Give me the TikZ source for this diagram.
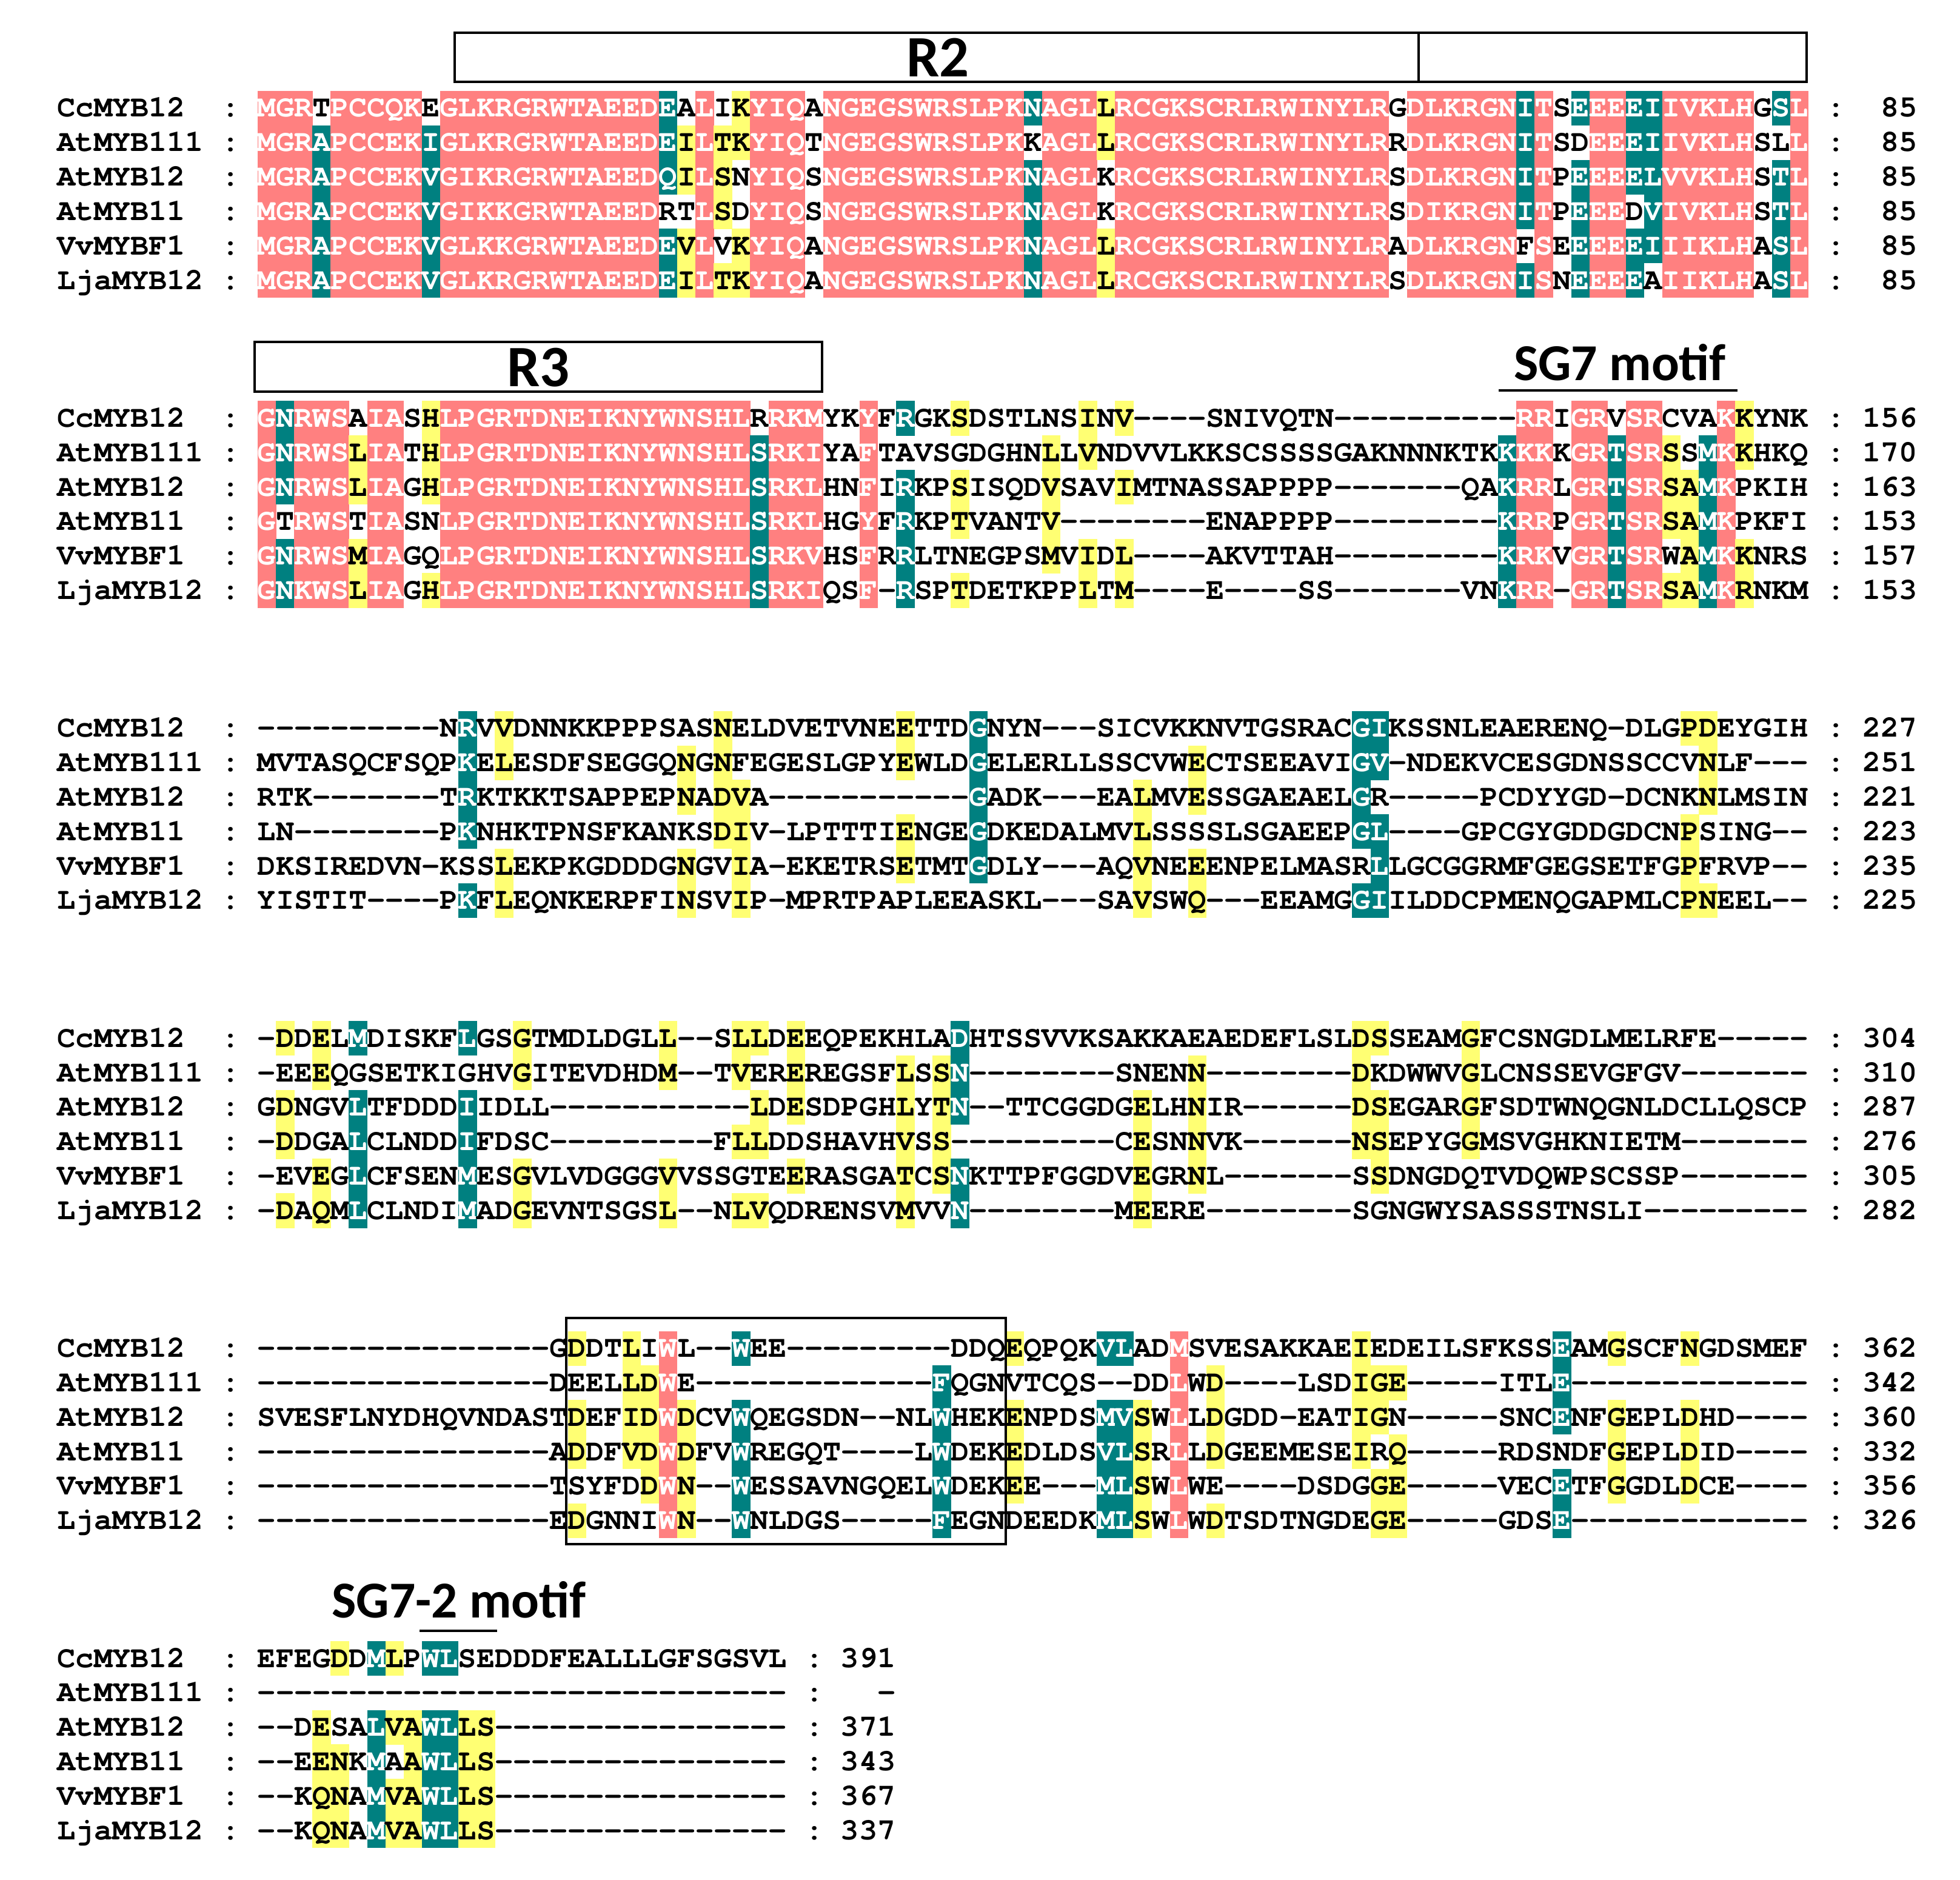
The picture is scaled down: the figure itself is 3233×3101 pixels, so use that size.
\documentclass[tikz,border=0pt]{standalone}
\usepackage{fontspec}
\newfontfamily\alnfont{TeX Gyre Cursor}
\newfontfamily\headfont{Carlito}
\definecolor{alnpink}{HTML}{FF8080}
\definecolor{alnteal}{HTML}{008080}
\definecolor{alnyellow}{HTML}{FFFF73}
\tikzset {
    res/.style = {inner sep = 0pt, anchor = base,
        font = \alnfont\bfseries\fontsize{14.3}{16}\selectfont},
    seqname/.style = {res, anchor = base west},
    seqend/.style = {res, anchor = base east},
    cell p/.style = {fill = alnpink},
    cell t/.style = {fill = alnteal},
    cell y/.style = {fill = alnyellow},
    ink p/.style = {text = white},
    ink t/.style = {text = white},
    ink y/.style = {text = black},
    region box/.style = {draw, line width = 1.2pt},
    region label/.style = {inner sep = 0pt, anchor = base,
        font = \headfont\bfseries\fontsize{27.5}{30}\selectfont},
    motif label/.style = {inner sep = 0pt, anchor = base,
        font = \headfont\bfseries\fontsize{24.3}{27}\selectfont},
    motif line/.style = {line width = 1.2pt}
}
\newcount\alncol
\def\alnblock#1{\pgfmathsetmacro\alnbtop{150+511.4*#1}}
\def\alncell#1#2{%
    \if#2.%
        \node[res] at ({440.05+30.09*\the\alncol}, \alntop+43) {#1};%
    \else
        \fill[cell #2] ({425+30.09*\the\alncol}, \alntop) rectangle ++(30.5, 57.2);%
        \node[res, ink #2] at ({440.05+30.09*\the\alncol}, \alntop+43) {#1};%
    \fi}
\def\alnstep#1#2\relax#3#4\relax{%
    \alncell{#1}{#3}%
    \advance\alncol by 1
    \ifx\relax#2\relax
        \expandafter\alnstop
    \else
        \expandafter\alnstep
    \fi#2\relax#4\relax}
\def\alnstop#1\relax#2\relax{}
\newcommand\alnrow[5]{%
    \pgfmathsetmacro\alntop{\alnbtop+56.82*#1}%
    \node[seqname] at (94, \alntop+43) {#2};%
    \node[seqname] at (364.8, \alntop+43) {:};%
    \alncol=0
    \alnstep#3\relax#4\relax
    \node[seqname] at ({425+30.09*(\the\alncol+1)}, \alntop+43) {:};%
    \node[seqend] at ({425+30.09*(\the\alncol+6)}, \alntop+43) {#5};}

\begin{document}
\begin{tikzpicture}[x = 0.01cm, y = -0.01cm]
    \path[use as bounding box, fill = white] (0, 0) rectangle (3233, 3101);
    % R2 / R3 domains
    \draw[region box] (750, 54) rectangle (2340, 135);
    \draw[region box] (2340, 54) rectangle (2980, 135);
    \node[region label] (r2) at (1547, 127) {R2};
    \draw[region box] (420, 564) rectangle (1356, 646);
    \node[region label] (r3) at (888, 638) {R3};
    \node[motif label] (sg7) at (2672, 628) {SG7 motif};
    \draw[motif line] (2472, 644) -- (2866, 644);
    \node[motif label] (sg72) at (757, 2668) {SG7-2 motif};
    \draw[motif line] (692, 2690) -- (820, 2690);

    \alnblock{0}
    \alnrow{0}{CcMYB12}{MGRTPCCQKE GLKRGRWTAE EDEALIKYIQ ANGEGSWRSL PKNAGLLRCG KSCRLRWINY LRGDLKRGNI TSEEEEIIVK LHGSL}{ppp.ppppp. pppppppppp ppt.p.yppp .ppppppppp pptpppyppp pppppppppp pp.ppppppt p.tppttppp pp.tp}{85}
    \alnrow{1}{AtMYB111}{MGRAPCCEKI GLKRGRWTAE EDEILTKYIQ TNGEGSWRSL PKKAGLLRCG KSCRLRWINY LRRDLKRGNI TSDEEEIIVK LHSLL}{ppptpppppt pppppppppp pptypyyppp .ppppppppp pp.pppyppp pppppppppp pp.ppppppt p..ppttppp pp..p}{85}
    \alnrow{2}{AtMYB12}{MGRAPCCEKV GIKRGRWTAE EDQILSNYIQ SNGEGSWRSL PKNAGLKRCG KSCRLRWINY LRSDLKRGNI TPEEEELVVK LHSTL}{ppptpppppt pppppppppp pptypy.ppp .ppppppppp pptppp.ppp pppppppppp pp.ppppppt p.tppttppp pp.tp}{85}
    \alnrow{3}{AtMYB11}{MGRAPCCEKV GIKKGRWTAE EDRTLSDYIQ SNGEGSWRSL PKNAGLKRCG KSCRLRWINY LRSDIKRGNI TPEEEDVIVK LHSTL}{ppptpppppt pppppppppp pp..py.ppp .ppppppppp pptppp.ppp pppppppppp pp.ppppppt p.tpp.tppp pp.tp}{85}
    \alnrow{4}{VvMYBF1}{MGRAPCCEKV GLKKGRWTAE EDEVLVKYIQ ANGEGSWRSL PKNAGLLRCG KSCRLRWINY LRADLKRGNF SEEEEEIIIK LHASL}{ppptpppppt pppppppppp pptyp.yppp .ppppppppp pptpppyppp pppppppppp pp.pppppp. p.tppttppp pp.tp}{85}
    \alnrow{5}{LjaMYB12}{MGRAPCCEKV GLKRGRWTAE EDEILTKYIQ ANGEGSWRSL PKNAGLLRCG KSCRLRWINY LRSDLKRGNI SNEEEEAIIK LHASL}{ppptpppppt pppppppppp pptypyyppp .ppppppppp pptpppyppp pppppppppp pp.ppppppt p.tppt.ppp pp.tp}{85}

    \alnblock{1}
    \alnrow{0}{CcMYB12}{GNRWSAIASH LPGRTDNEIK NYWNSHLRRK MYKYFRGKSD STLNSINV-- --SNIVQTN- ---------R RIGRVSRCVA KKYNK}{ptppp.pp.y pppppppppp ppppppp.pp p..p.t..y. .....y.y.. .......... .........p p.pp.pp... py...}{156}
    \alnrow{1}{AtMYB111}{GNRWSLIATH LPGRTDNEIK NYWNSHLSRK IYAFTAVSGD GHNLLVNDVV LKKSCSSSSG AKNNNKTKKK KKGRTSRSSM KKHKQ}{ptpppypp.y pppppppppp ppppppptpp p..p...... ...y.y.... .......... ........tp p.pptppy.t py...}{170}
    \alnrow{2}{AtMYB12}{GNRWSLIAGH LPGRTDNEIK NYWNSHLSRK LHNFIRKPSI SQDVSAVIMT NASSAPPPP- ------QAKR RLGRTSRSAM KPKIH}{ptpppypp.y pppppppppp ppppppptpp p..p.t..y. ...y...y.. .......... ........tp p.pptppyyt p....}{163}
    \alnrow{3}{AtMYB11}{GTRWSTIASN LPGRTDNEIK NYWNSHLSRK LHGYFRKPTV ANTV------ --ENAPPPP- --------KR RPGRTSRSAM KPKFI}{p.ppp.pp.. pppppppppp ppppppptpp p..p.t..y. ...y...... .......... ........tp p.pptppyyt p....}{153}
    \alnrow{4}{VvMYBF1}{GNRWSMIAGQ LPGRTDNEIK NYWNSHLSRK VHSFRRLTNE GPSMVIDL-- --AKVTTAH- --------KR KVGRTSRWAM KKNRS}{ptpppypp.. pppppppppp ppppppptpp p..p.t.... ...y.y.y.. .......... ........tp p.pptpp.yt py...}{157}
    \alnrow{5}{LjaMYB12}{GNKWSLIAGH LPGRTDNEIK NYWNSHLSRK IQSF-RSPTD ETKPPLTM-- --E----SS- ------VNKR R-GRTSRSAM KRNKM}{ptpppypp.y pppppppppp ppppppptpp p..p.t..y. .....y.y.. .......... ........tp p.pptppyyt py...}{153}

    \alnblock{2}
    \alnrow{0}{CcMYB12}{---------- NRVVDNNKKP PPSASNELDV ETVNEETTDG NYN---SICV KKNVTGSRAC GIKSSNLEAE RENQ-DLGPD EYGIH}{.......... .t.y...... .....y.... .....y...t .......... .......... tt........ ........yy .....}{227}
    \alnrow{1}{AtMYB111}{MVTASQCFSQ PKELESDFSE GGQNGNFEGE SLGPYEWLDG ELERLLSSCV WECTSEEAVI GV-NDEKVCE SGDNSSCCVN LF---}{.......... .t.y...... ...y.y.... .....y...t .......... .y........ tt........ .........y .....}{251}
    \alnrow{2}{AtMYB12}{RTK------- TRKTKKTSAP PEPNADVA-- ---------G ADK---EALM VESSGAEAEL GR-----PCD YYGD-DCNKN LMSIN}{.......... .t........ ...y.yy... .........t ........y. .y........ t......... .........y .....}{221}
    \alnrow{3}{AtMYB11}{LN-------- PKNHKTPNSF KANKSDIV-L PTTTIENGEG DKEDALMVLS SSSLSGAEEP GL----GPCG YGDDGDCNPS ING--}{.......... .t........ .....yy... .....y...t ........y. .......... tt........ ........y. .....}{223}
    \alnrow{4}{VvMYBF1}{DKSIREDVN- KSSLEKPKGD DDGNGVIA-E KETRSETMTG DLY---AQVN EEENPELMAS RLLGCGGRMF GEGSETFGPF RVP--}{.......... ...y...... ...y..y... .....y...t ........y. .y........ .t........ ........y. .....}{235}
    \alnrow{5}{LjaMYB12}{YISTIT---- PKFLEQNKER PFINSVIP-M PRTPAPLEEA SKL---SAVS WQ---EEAMG GIILDDCPME NQGAPMLCPN EEL--}{.......... .t.y...... ...y..y... .......... ........y. .y........ tt........ ........yy .....}{225}

    \alnblock{3}
    \alnrow{0}{CcMYB12}{-DDELMDISK FLGSGTMDLD GLL--SLLDE EQPEKHLADH TSSVVKSAKK AEAEDEFLSL DSSEAMGFCS NGDLMELRFE -----}{.y.y.t.... .t..y..... ..y...yy.y ........t. .......... .......... yy....y... .......... .....}{304}
    \alnrow{1}{AtMYB111}{-EEEQGSETK IGHVGITEVD HDM--TVERE REGSFLSSN- -------SNE NN-------- DKDWWVGLCN SSEVGFGV-- -----}{...y...... ....y..... ..y...y..y .....y.yt. .......... .y........ y.....y... .......... .....}{310}
    \alnrow{2}{AtMYB12}{GDNGVLTFDD DIIDLL---- -------LDE SDPGHLYTN- -TTCGGDGEL HNIR------ DSEGARGFSD TWNQGNLDCL LQSCP}{.y...t.... .t........ .......y.y .....y.yt. ........y. .y........ yy....y... .......... .....}{287}
    \alnrow{3}{AtMYB11}{-DDGALCLND DIFDSC---- -----FLLDD SHAVHVSS-- -------CES NNVK------ NSEPYGGMSV GHKNIETM-- -----}{.y...t.... .t........ ......yy.. .....y.y.. ........y. .y........ yy....y... .......... .....}{276}
    \alnrow{4}{VvMYBF1}{-EVEGLCFSE NMESGVLVDG GGVVSSGTEE RASGATCSNK TTPFGGDVEG RNL------- SSDNGDQTVD QWPSCSSP-- -----}{...y.t.... .t..y..... ..y......y .....y.yt. ........y. .y........ .y........ .......... .....}{305}
    \alnrow{5}{LjaMYB12}{-DAQMLCLND IMADGEVNTS GSL--NLVQD RENSVMVVN- -------MEE RE-------- SGNGWYSASS STNSLI---- -----}{.y.y.t.... .t..y..... ..y...yy.. .....y..t. ........y. .......... .......... .......... .....}{282}

    \alnblock{4}
    \alnrow{0}{CcMYB12}{---------- ------GDDT LIWL--WEE- --------DD QEQPQKVLAD MSVESAKKAE IEDEILSFKS SEAMGSCFNG DSMEF}{.......... .......y.. y.p...t... .......... .y....tt.. p......... y......... .t..y...y. .....}{362}
    \alnrow{1}{AtMYB111}{---------- ------DEEL LDWE------ -------FQG NVTCQS--DD LWD----LSD IGE-----IT LE-------- -----}{.......... .......... yyp....... .......t.. .......... p.y....... yyy....... .t........ .....}{342}
    \alnrow{2}{AtMYB12}{SVESFLNYDH QVNDASTDEF IDWDCVWQEG SDN--NLWHE KENPDSMVSW LLDGDD-EAT IGN-----SN CENFGEPLDH D----}{.......... .......y.. yypy..t... .......t.. .y....tty. p.y....... yy........ .t..y...y. .....}{360}
    \alnrow{3}{AtMYB11}{---------- ------ADDF VDWDFVWREG QT----LWDE KEDLDSVLSR LLDGEEMESE IRQ-----RD SNDFGEPLDI D----}{.......... .......y.. yypy..t... .......t.. .y....tty. p.y....... y.y....... ....y...y. .....}{332}
    \alnrow{4}{VvMYBF1}{---------- ------TSYF DDWN--WESS AVNGQELWDE KEE---MLSW LWE----DSD GGE-----VE CETFGGDLDC E----}{.......... .......... .ypy..t... .......t.. .y....tty. p......... .yy....... .t..y...y. .....}{356}
    \alnrow{5}{LjaMYB12}{---------- ------EDGN NIWN--WNLD GS-----FEG NDEEDKMLSW LWDTSDTNGD EGE-----GD SE-------- -----}{.......... .......y.. ..py..t... .......t.. ......tty. p.y....... .yy....... .t........ .....}{326}
    \draw[region box, line width = 1pt] (934, 2174) rectangle (1659, 2547);

    \alnblock{5}
    \alnrow{0}{CcMYB12}{EFEGDDMLPW LSEDDDFEAL LLGFSGSVL}{....y.ty.t t......... .........}{391}
    \alnrow{1}{AtMYB111}{---------- ---------- ---------}{.......... .......... .........}{-}
    \alnrow{2}{AtMYB12}{--DESALVAW LLS------- ---------}{...y..tyyt tyy....... .........}{371}
    \alnrow{3}{AtMYB11}{--EENKMAAW LLS------- ---------}{...yy.t.yt tyy....... .........}{343}
    \alnrow{4}{VvMYBF1}{--KQNAMVAW LLS------- ---------}{...yy.tyyt tyy....... .........}{367}
    \alnrow{5}{LjaMYB12}{--KQNAMVAW LLS------- ---------}{...yy.tyyt tyy....... .........}{337}
\end{tikzpicture}
\end{document}
